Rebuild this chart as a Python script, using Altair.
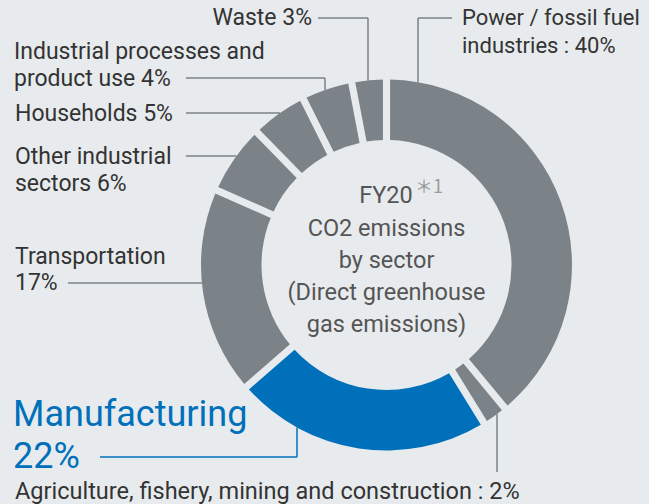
import math
import altair as alt
import pandas as pd

# ---------------- data ----------------
sectors = [
    "Power / fossil fuel industries",
    "Agriculture, fishery, mining and construction",
    "Manufacturing",
    "Transportation",
    "Other industrial sectors",
    "Households",
    "Industrial processes and product use",
    "Waste",
]
# share of each slice as drawn (percent)
shares = [39.0, 2.2, 22.4, 18.0, 6.1, 4.9, 4.4, 3.0]
label_texts = [
    "Power / fossil fuel\nindustries : 40%",
    "Agriculture, fishery, mining and construction : 2%",
    "Manufacturing\n22%",
    "Transportation\n17%",
    "Other industrial\nsectors 6%",
    "Households 5%",
    "Industrial processes and\nproduct use 4%",
    "Waste 3%",
]
highlight = "Manufacturing"
center_lines = ["CO2 emissions", "by sector", "(Direct greenhouse", "gas emissions)"]
center_head = "FY20"
center_note = "＊1"

# ---------------- styles / layout ----------------
W, H = 649, 504
CX, CY = 386.5, 265
R_OUT, R_IN = 185.5, 125
BG = "#e8ebee"
GRAY = "#7b8389"
BLUE = "#0070bb"
TEXT = "#333333"
FONT = "Roboto"

slice_colors = [BLUE if s == highlight else GRAY for s in sectors]

df = pd.DataFrame({"sector": sectors, "share": shares, "idx": list(range(len(sectors)))})

arc = alt.Chart(df).mark_arc(
    innerRadius=R_IN, outerRadius=R_OUT, padAngle=0.032
).encode(
    theta=alt.Theta("share:Q", stack=True),
    order=alt.Order("idx:Q"),
    color=alt.Color("sector:N", scale=alt.Scale(domain=sectors, range=slice_colors), legend=None),
    x=alt.value(CX),
    y=alt.value(CY),
)


def top_y(x):
    return CY - math.sqrt(R_OUT ** 2 - (x - CX) ** 2)


def bottom_y(x):
    return CY + math.sqrt(R_OUT ** 2 - (x - CX) ** 2)


def left_x(y):
    return CX - math.sqrt(R_OUT ** 2 - (y - CY) ** 2)


# label anchor: (x, y of first line, align, size, lineHeight)
label_layout = {
    "Power / fossil fuel industries": (462, 18, "left", 22, 28),
    "Agriculture, fishery, mining and construction": (15, 492, "left", 23.5, 27),
    "Manufacturing": (13, 415, "left", 36, 42),
    "Transportation": (15, 257, "left", 23, 26),
    "Other industrial sectors": (15, 157, "left", 23, 27),
    "Households": (15, 114, "left", 23, 27),
    "Industrial processes and product use": (14, 52, "left", 23, 27),
    "Waste": (312, 18, "right", 23, 27),
}

# leader polylines
leaders = {
    "Waste": [(318, 18), (368, 18), (368, top_y(368))],
    "Power / fossil fuel industries": [(452, 18), (418, 18), (418, top_y(418))],
    "Industrial processes and product use": [(186, 78), (325, 78), (325, top_y(325))],
    "Households": [(186, 113), (left_x(113), 113)],
    "Other industrial sectors": [(186, 156), (left_x(156), 156)],
    "Transportation": [(68, 283), (left_x(283), 283)],
    "Manufacturing": [(100, 457), (297, 457), (297, bottom_y(297))],
    "Agriculture, fishery, mining and construction": [(497, 472), (497, bottom_y(497))],
}

seg_rows = []
for s, pts in leaders.items():
    for (x1, y1), (x2, y2) in zip(pts[:-1], pts[1:]):
        seg_rows.append({"sector": s, "x": x1, "y": y1, "x2": x2, "y2": y2})
seg_df = pd.DataFrame(seg_rows)

rules = alt.Chart(seg_df).mark_rule(strokeWidth=1.5).encode(
    x=alt.X("x:Q", scale=None),
    y=alt.Y("y:Q", scale=None),
    x2="x2:Q",
    y2="y2:Q",
    color=alt.Color("sector:N", scale=alt.Scale(domain=sectors, range=slice_colors), legend=None),
)

layers = [arc, rules]

for s, t in zip(sectors, label_texts):
    x, y, align, size, lh = label_layout[s]
    layers.append(
        alt.Chart(pd.DataFrame({"t": [t]})).mark_text(
            align=align, baseline="middle", font=FONT, fontSize=size,
            lineHeight=lh, lineBreak="\n",
            color=BLUE if s == highlight else TEXT,
        ).encode(text="t:N", x=alt.value(x), y=alt.value(y))
    )

# center title
layers.append(
    alt.Chart(pd.DataFrame({"t": [center_head]})).mark_text(
        align="center", baseline="middle", font=FONT, fontSize=23.5, color="#555555"
    ).encode(text="t:N", x=alt.value(386), y=alt.value(196))
)
layers.append(
    alt.Chart(pd.DataFrame({"t": [center_note]})).mark_text(
        align="left", baseline="middle", font="Noto Sans CJK JP", fontSize=18, color="#9a9a9a"
    ).encode(text="t:N", x=alt.value(415), y=alt.value(188))
)
layers.append(
    alt.Chart(pd.DataFrame({"t": ["\n".join(center_lines)]})).mark_text(
        align="center", baseline="middle", font=FONT, fontSize=23.5, color="#555555",
        lineHeight=32, lineBreak="\n",
    ).encode(text="t:N", x=alt.value(386.5), y=alt.value(229))
)

chart = alt.layer(*layers).properties(
    width=W, height=H, background=BG, padding=0, autosize=alt.AutoSizeParams(type="none")
).configure_view(stroke=None)

chart.save("out.html", embed_options={"renderer": "svg", "actions": False})
